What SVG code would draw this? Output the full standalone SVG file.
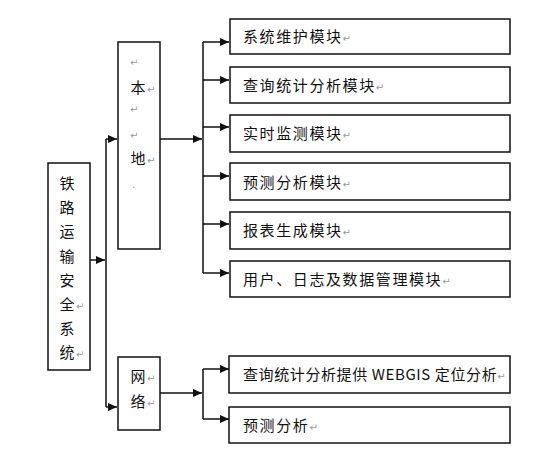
<svg xmlns="http://www.w3.org/2000/svg" width="545" height="464" viewBox="0 0 545 464">
<defs>
<marker id="ah" markerWidth="9" markerHeight="8" refX="9" refY="4" orient="auto" markerUnits="userSpaceOnUse">
<path d="M0,0 L9,4 L0,8 Z" fill="#111"/>
</marker>
</defs>
<style>
.box{fill:#fff;stroke:#111;stroke-width:1.5}
.t{font-family:"Noto Sans CJK SC","Liberation Sans",sans-serif;font-size:15px;fill:#111;letter-spacing:1.6px}
.v{font-family:"Noto Sans CJK SC","Liberation Sans",sans-serif;font-size:15px;fill:#111;text-anchor:middle}
.r{font-family:"DejaVu Sans",sans-serif;font-size:10px;fill:#999;letter-spacing:0}
.c{fill:none;stroke:#111;stroke-width:1.5}
.a{fill:none;stroke:#111;stroke-width:1.5;marker-end:url(#ah)}
</style>
<rect width="545" height="464" fill="#fff"/>
<g id="connectors">
<line class="a" x1="90" y1="260" x2="105" y2="260"/>
<line class="c" x1="106" y1="139" x2="106" y2="407"/>
<line class="a" x1="106" y1="139" x2="117" y2="139"/>
<line class="a" x1="106" y1="407" x2="117" y2="407"/>
<line class="a" x1="160" y1="139" x2="202" y2="139"/>
<line class="c" x1="203" y1="42" x2="203" y2="273"/>
<line class="a" x1="203" y1="42" x2="229" y2="42"/>
<line class="a" x1="203" y1="80" x2="229" y2="80"/>
<line class="a" x1="203" y1="127" x2="229" y2="127"/>
<line class="a" x1="203" y1="176" x2="229" y2="176"/>
<line class="a" x1="203" y1="224" x2="229" y2="224"/>
<line class="a" x1="203" y1="273" x2="229" y2="273"/>
<line class="a" x1="160" y1="393" x2="202" y2="393"/>
<line class="c" x1="203" y1="369" x2="203" y2="419"/>
<line class="a" x1="203" y1="369" x2="229" y2="369"/>
<line class="a" x1="203" y1="419" x2="229" y2="419"/>
</g>
<g id="main">
<rect class="box" x="48" y="163" width="42" height="207"/>
<text class="v" x="67" y="189">铁</text>
<text class="v" x="67" y="213">路</text>
<text class="v" x="67" y="237">运</text>
<text class="v" x="67" y="262">输</text>
<text class="v" x="67" y="286">安</text>
<text class="v" x="67" y="310">全</text>
<text class="r" x="76" y="310">↵</text>
<text class="v" x="67" y="334">系</text>
<text class="v" x="67" y="358">统</text>
<text class="r" x="76" y="358">↵</text>
</g>
<g id="local">
<rect class="box" x="118" y="42" width="42" height="207"/>
<text class="r" x="130" y="66">↵</text>
<text class="v" x="138" y="93">本</text>
<text class="r" x="147" y="93">↵</text>
<text class="r" x="130" y="113">↵</text>
<text class="r" x="130" y="139">↵</text>
<text class="v" x="138" y="164">地</text>
<text class="r" x="147" y="164">↵</text>
<text class="r" x="132" y="188">.</text>
</g>
<g id="network">
<rect class="box" x="118" y="357" width="42" height="73"/>
<text class="v" x="138" y="382">网</text>
<text class="r" x="147" y="382">↵</text>
<text class="v" x="138" y="407">络</text>
<text class="r" x="147" y="407">↵</text>
</g>
<g id="m1">
<rect class="box" x="230" y="19" width="280" height="35"/>
<text class="t" x="243" y="42">系统维护模块<tspan class="r">↵</tspan></text>
</g>
<g id="m2">
<rect class="box" x="230" y="67" width="280" height="36"/>
<text class="t" x="243" y="91">查询统计分析模块<tspan class="r">↵</tspan></text>
</g>
<g id="m3">
<rect class="box" x="230" y="115" width="280" height="37"/>
<text class="t" x="243" y="139">实时监测模块<tspan class="r">↵</tspan></text>
</g>
<g id="m4">
<rect class="box" x="230" y="163" width="280" height="37"/>
<text class="t" x="243" y="188">预测分析模块<tspan class="r">↵</tspan></text>
</g>
<g id="m5">
<rect class="box" x="230" y="212" width="280" height="37"/>
<text class="t" x="243" y="236">报表生成模块<tspan class="r">↵</tspan></text>
</g>
<g id="m6">
<rect class="box" x="230" y="261" width="280" height="36"/>
<text class="t" x="243" y="285">用户、日志及数据管理模块<tspan class="r">↵</tspan></text>
</g>
<g id="w1">
<rect class="box" x="229" y="356" width="281" height="37"/>
<text class="t" x="243" y="380" style="letter-spacing:0.6px">查询统计分析提供 WEBGIS 定位分析<tspan class="r">↵</tspan></text>
</g>
<g id="w2">
<rect class="box" x="229" y="407" width="281" height="36"/>
<text class="t" x="243" y="431">预测分析<tspan class="r">↵</tspan></text>
</g>
</svg>
